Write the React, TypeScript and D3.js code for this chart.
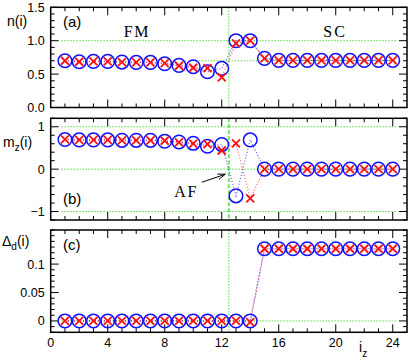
import * as d3 from "d3";

// site index
const iz = [1, 2, 3, 4, 5, 6, 7, 8, 9, 10, 11, 12, 13, 14, 15, 16, 17, 18, 19, 20, 21, 22, 23, 24];

// (a) n(i)
const nCircle = [0.70, 0.685, 0.69, 0.69, 0.68, 0.675, 0.675, 0.655, 0.63, 0.61, 0.535, 0.585, 1.0, 1.0, 0.735, 0.705, 0.705, 0.705, 0.705, 0.705, 0.705, 0.705, 0.705, 0.705];
const nCross = [0.70, 0.685, 0.69, 0.69, 0.68, 0.675, 0.675, 0.665, 0.625, 0.595, 0.59, 0.45, 0.96, 1.0, 0.735, 0.705, 0.705, 0.705, 0.705, 0.705, 0.705, 0.705, 0.705, 0.705];

// (b) m_z(i)
const mCircle = [0.70, 0.69, 0.69, 0.69, 0.68, 0.68, 0.68, 0.66, 0.64, 0.61, 0.54, 0.58, -0.63, 0.69, 0, 0, 0, 0, 0, 0, 0, 0, 0, 0];
const mCross = [0.70, 0.69, 0.69, 0.69, 0.68, 0.68, 0.68, 0.67, 0.63, 0.60, 0.59, 0.44, 0.61, -0.69, 0, 0, 0, 0, 0, 0, 0, 0, 0, 0];

// (c) Delta_d(i)
const dCircle = [0, 0, 0, 0, 0, 0, 0, 0, 0, 0, 0, 0, 0, 0, 0.127, 0.127, 0.127, 0.127, 0.127, 0.127, 0.127, 0.127, 0.127, 0.127];
const dCross = [0, 0, 0, 0, 0, 0, 0, 0, 0, 0, 0, 0, 0, -0.002, 0.127, 0.127, 0.127, 0.127, 0.127, 0.127, 0.127, 0.127, 0.127, 0.127];

const xTickLabels = [0, 4, 8, 12, 16, 20, 24];

const W = 409;
const H = 362;
const green = "#55dd44";
const blue = "#1010ff";
const red = "#ff1010";
const tickFont = "'Liberation Sans', Arial, sans-serif";
const labelFont = "'Liberation Serif', 'Times New Roman', serif";

const x = d3.scaleLinear().domain([0, 25]).range([50.7, 407]);

type Panel = {
  y: d3.ScaleLinear<number, number>;
  circ: number[];
  cross: number[];
  major: number[];
  minor: number[];
  fmt: (v: number) => string;
};

const panels: Panel[] = [
  {
    y: d3.scaleLinear().domain([0, 1.5]).range([107.5, 7.3]),
    circ: nCircle,
    cross: nCross,
    major: [0, 0.5, 1.0, 1.5],
    minor: d3.range(0, 1.51, 0.1),
    fmt: d3.format(".1f"),
  },
  {
    y: d3.scaleLinear().domain([-1.2, 1.2]).range([220, 118.3]),
    circ: mCircle,
    cross: mCross,
    major: [-1, 0, 1],
    minor: d3.range(-1.2, 1.21, 0.2),
    fmt: d3.format("d"),
  },
  {
    y: d3.scaleLinear().domain([-0.02, 0.16]).range([332.3, 230]),
    circ: dCircle,
    cross: dCross,
    major: [0, 0.05, 0.1],
    minor: d3.range(-0.02, 0.161, 0.01),
    fmt: (v: number) => (v === 0 ? "0" : String(v)),
  },
];

function Frame({ p, idx }: { p: Panel; idx: number }) {
  const [y0, y1] = p.y.range();
  const [x0, x1] = x.range();
  const xs = d3.range(1, 25);
  const line = d3
    .line<number>()
    .x((_, i) => x(iz[i]))
    .y((v) => p.y(v));
  return (
    <g>
      {/* x ticks top & bottom */}
      {xs.map((t) => {
        const len = t % 4 === 0 ? 8 : 4;
        return (
          <g key={"xt" + t} stroke="#000" strokeWidth={1}>
            <line x1={x(t)} x2={x(t)} y1={y0} y2={y0 - len} />
            <line x1={x(t)} x2={x(t)} y1={y1} y2={y1 + len} />
          </g>
        );
      })}
      {/* y ticks left & right */}
      {p.minor.map((t, i) => {
        const isMajor = p.major.some((m) => Math.abs(m - t) < 1e-6);
        const len = isMajor ? 8 : 4;
        return (
          <g key={"yt" + i} stroke="#000" strokeWidth={1}>
            <line x1={x0} x2={x0 + len} y1={p.y(t)} y2={p.y(t)} />
            <line x1={x1} x2={x1 - len} y1={p.y(t)} y2={p.y(t)} />
          </g>
        );
      })}
      {p.major.map((t) => (
        <text
          key={"yl" + t}
          x={x0 - 6}
          y={p.y(t)}
          dy="0.36em"
          textAnchor="end"
          fontFamily={tickFont}
          fontSize={12.5}
        >
          {p.fmt(t)}
        </text>
      ))}
      {/* connecting dotted lines */}
      <path d={line(p.circ) ?? ""} fill="none" stroke={blue} strokeWidth={1.2} strokeDasharray="1,2" opacity={0.7} />
      <path d={line(p.cross) ?? ""} fill="none" stroke={red} strokeWidth={1.2} strokeDasharray="1,2" opacity={0.7} />
      {/* markers */}
      {p.circ.map((v, i) => (
        <circle key={"c" + i} cx={x(iz[i])} cy={p.y(v)} r={6.8} fill="none" stroke={blue} strokeWidth={1.5} />
      ))}
      {p.cross.map((v, i) => {
        const cx = x(iz[i]);
        const cy = p.y(v);
        const s = 4;
        return (
          <path
            key={"x" + i}
            d={`M${cx - s},${cy - s}L${cx + s},${cy + s}M${cx - s},${cy + s}L${cx + s},${cy - s}`}
            stroke={red}
            strokeWidth={1.8}
          />
        );
      })}
      <rect x={x0} y={y1} width={x1 - x0} height={y0 - y1} fill="none" stroke="#000" strokeWidth={1.5} />
      <text x={63} y={p.y.range()[1] + 20} fontFamily={tickFont} fontSize={15}>
        {idx === 0 ? "(a)" : idx === 2 ? "(c)" : ""}
      </text>
    </g>
  );
}

export default function App() {
  const [pa, pb, pc] = panels;
  const vx = x(12.5);
  const ah = (x1: number, y1: number, x2: number, y2: number) => {
    const a = Math.atan2(y2 - y1, x2 - x1);
    const l = 8;
    const w = 0.35;
    return `M${x2 - l * Math.cos(a - w)},${y2 - l * Math.sin(a - w)}L${x2},${y2}L${x2 - l * Math.cos(a + w)},${y2 - l * Math.sin(a + w)}`;
  };
  const arX1 = x(10.6), arY1 = pb.y(-0.31), arX2 = x(12.25), arY2 = pb.y(-0.12);
  return (
    <svg width={W} height={H} style={{ position: "absolute", left: 0, top: 0, background: "#fff" }}>
      {/* guide lines */}
      <g stroke={green} strokeWidth={1} strokeDasharray="1.5,1.5" fill="none">
        <line x1={x(0.75)} x2={x(24.25)} y1={pa.y(1)} y2={pa.y(1)} />
        <line x1={x(9.75)} x2={x(24.25)} y1={pa.y(0.7)} y2={pa.y(0.7)} />
        {[1, 0, -1].map((v) => (
          <line key={v} x1={x(0.75)} x2={x(24.25)} y1={pb.y(v)} y2={pb.y(v)} />
        ))}
        <line x1={x(0.75)} x2={x(24.25)} y1={pc.y(0)} y2={pc.y(0)} />
        <line x1={vx} x2={vx} y1={pa.y.range()[1]} y2={pa.y.range()[0]} />
        <line x1={vx} x2={vx} y1={pc.y.range()[1]} y2={pc.y.range()[0]} />
      </g>
      <line x1={vx} x2={vx} y1={pb.y.range()[1]} y2={pb.y.range()[0]} stroke={green} strokeWidth={2} strokeDasharray="4,2" opacity={0.8} />
      {panels.map((p, i) => (
        <Frame key={i} p={p} idx={i} />
      ))}
      <text x={63} y={pb.y(-0.7) + 5} fontFamily={tickFont} fontSize={15}>(b)</text>
      {/* annotations */}
      <text x={x(6.05)} y={pa.y(1.055)} textAnchor="middle" fontFamily={labelFont} fontSize={16} letterSpacing={1.5}>FM</text>
      <text x={x(19.95)} y={pa.y(1.055)} textAnchor="middle" fontFamily={labelFont} fontSize={16} letterSpacing={2}>SC</text>
      <text x={x(9.5)} y={pb.y(-0.65)} textAnchor="middle" fontFamily={labelFont} fontSize={16} letterSpacing={1.5}>AF</text>
      <line x1={arX1} y1={arY1} x2={arX2} y2={arY2} stroke="#000" strokeWidth={1} />
      <path d={ah(arX1, arY1, arX2, arY2)} fill="none" stroke="#000" strokeWidth={1} />
      {/* axis titles */}
      <text x={7} y={26} fontFamily={tickFont} fontSize={14}>n(i)</text>
      <text x={3} y={147} fontFamily={tickFont} fontSize={14}>
        m<tspan fontSize={10} dy={4}>z</tspan>
        <tspan dy={-4}>(i)</tspan>
      </text>
      <text x={2} y={246} fontFamily={tickFont} fontSize={14}>
        Δ<tspan fontSize={10} dy={4}>d</tspan>
        <tspan dy={-4}>(i)</tspan>
      </text>
      {xTickLabels.map((t) => (
        <text key={t} x={x(t)} y={347} textAnchor="middle" fontFamily={tickFont} fontSize={12.5}>
          {t}
        </text>
      ))}
      <text x={359} y={352} fontFamily={tickFont} fontSize={14}>
        i<tspan fontSize={10} dy={5}>z</tspan>
      </text>
    </svg>
  );
}
